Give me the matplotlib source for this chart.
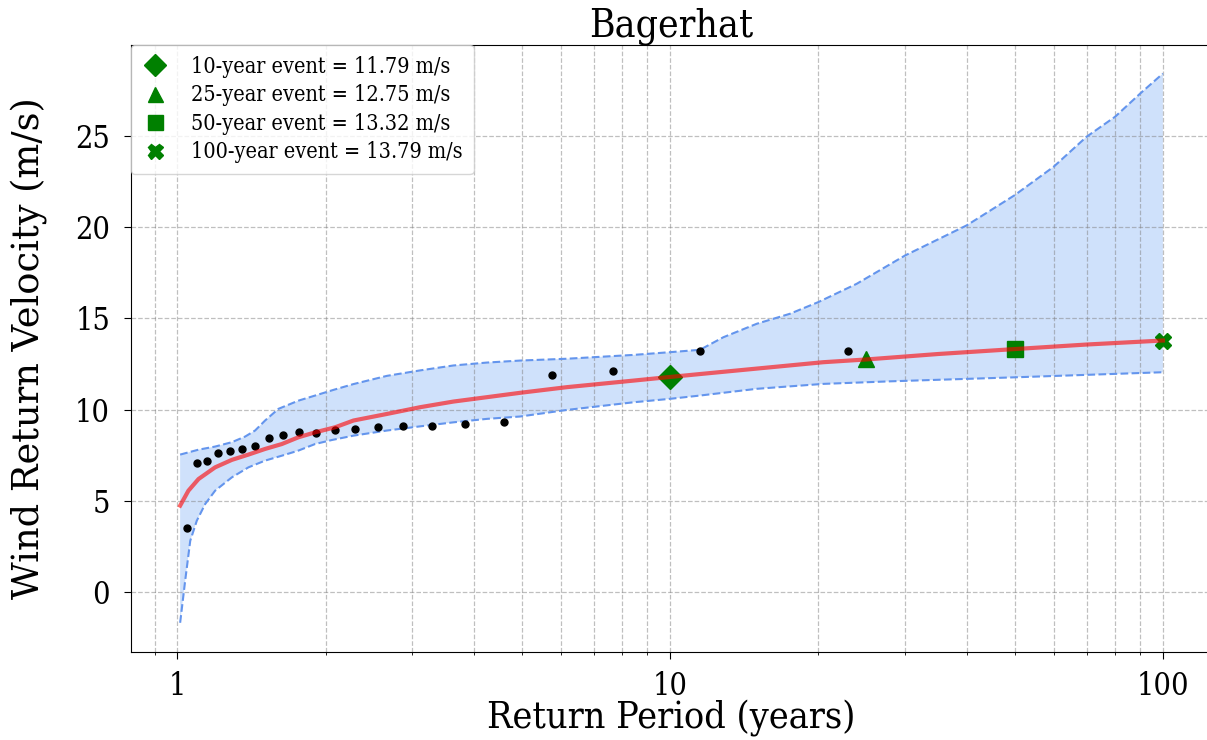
import matplotlib
matplotlib.use("Agg")
import matplotlib.pyplot as plt
import numpy as np

station = "Bagerhat"

# observed annual maxima (n = 22), plotted at Weibull positions T = (n+1)/m
obs_T = [23 / m for m in range(22, 0, -1)]
obs_v = [3.48, 7.09, 7.18, 7.62, 7.73, 7.86, 7.98, 8.42, 8.61, 8.75, 8.72,
         8.86, 8.92, 9.05, 9.12, 9.12, 9.21, 9.30, 11.92, 12.13, 13.22, 13.24]

# fitted return level curve
fit_T = [1.014, 1.054, 1.105, 1.194, 1.291, 1.395, 1.508, 1.631, 1.762, 1.905,
         2.092, 2.279, 2.664, 3.111, 3.634, 4.249, 4.963, 6.173, 8.427, 10.0,
         11.5, 15.0, 20.46, 25.0, 35.0, 50.0, 70.0, 100.0]
fit_v = [4.73, 5.55, 6.19, 6.83, 7.24, 7.53, 7.84, 8.11, 8.48, 8.75,
         9.03, 9.40, 9.76, 10.13, 10.44, 10.68, 10.92, 11.23, 11.59, 11.79,
         11.95, 12.25, 12.6, 12.75, 13.05, 13.32, 13.57, 13.79]

# confidence band
up_T = [1.014, 1.105, 1.194, 1.291, 1.374, 1.439, 1.508, 1.605, 1.762, 1.905,
        2.075, 2.279, 2.664, 3.111, 3.634, 4.249, 4.963, 6.173, 8.427, 10.0,
        11.5, 12.83, 15.0, 17.52, 20.0, 23.91, 30.0, 40.0, 50.0, 60.0, 70.0,
        80.0, 90.0, 100.0]
up_v = [7.53, 7.80, 7.97, 8.21, 8.52, 8.85, 9.40, 10.04, 10.49, 10.77,
        11.08, 11.40, 11.85, 12.15, 12.42, 12.58, 12.69, 12.79, 13.0, 13.15,
        13.28, 13.97, 14.71, 15.26, 15.9, 16.9, 18.46, 20.11, 21.76, 23.32, 24.97,
        26.07, 27.35, 28.44]
lo_T = [1.014, 1.038, 1.063, 1.096, 1.14, 1.194, 1.291, 1.395, 1.508, 1.631,
        1.762, 1.905, 2.06, 2.279, 2.664, 3.111, 3.634, 4.249, 4.963, 6.173,
        8.427, 10.0, 11.5, 15.0, 20.46, 27.94, 50.0, 100.0]
lo_v = [-1.7, 0.6, 2.8, 3.9, 4.82, 5.55, 6.28, 6.83, 7.20, 7.47,
        7.75, 8.11, 8.33, 8.57, 8.85, 9.08, 9.30, 9.49, 9.62, 9.98,
        10.40, 10.59, 10.77, 11.14, 11.41, 11.55, 11.77, 12.05]

# design events
ev_T = [10, 25, 50, 100]
ev_v = [11.79, 12.75, 13.32, 13.79]
ev_mk = ["D", "^", "s", "X"]

plt.rcParams["font.family"] = "DejaVu Serif"
plt.rcParams["font.stretch"] = "condensed"

fig = plt.figure(figsize=(12.07, 7.40), dpi=100)
ax = fig.add_axes([131 / 1207, 0.119, (1212 - 131) / 1207, 0.820])

ax.fill(np.concatenate([up_T, lo_T[::-1]]), np.concatenate([up_v, lo_v[::-1]]),
        color="#cfe1fb", lw=0, zorder=1)
ax.plot(up_T, up_v, "--", color="#6495ed", lw=1.5, zorder=2)
ax.plot(lo_T, lo_v, "--", color="#6495ed", lw=1.5, zorder=2)
ax.plot(obs_T, obs_v, "o", color="black", markersize=5, zorder=3)

for t, v, mk in zip(ev_T, ev_v, ev_mk):
    ax.plot(t, v, mk, color="green", markersize=12, linestyle="none", zorder=4,
            label=f"{t}-year event = {v:.2f} m/s")

ax.plot(fit_T, fit_v, color="red", alpha=0.6, lw=3, zorder=5)

ax.set_xscale("log")
ax.set_xlim(0.806, 125.8)
ax.set_ylim(-3.3, 30.0)
ax.set_xticks([1, 10, 100])
ax.set_xticklabels(["1", "10", "100"])
ax.set_yticks([0, 5, 10, 15, 20, 25])
ax.tick_params(axis="both", which="major", labelsize=22, length=5)
ax.tick_params(axis="x", pad=9)
ax.tick_params(axis="y", pad=10)
ax.grid(True, which="both", axis="x", linestyle="--", color="gray", alpha=0.5, lw=0.9)
ax.grid(True, which="major", axis="y", linestyle="--", color="gray", alpha=0.5, lw=0.9)

ax.set_title(station, fontsize=28, pad=5)
ax.set_xlabel("Return Period (years)", fontsize=27, labelpad=-1.5)
ax.set_ylabel("Wind Return Velocity (m/s)", fontsize=26.5, fontstretch="normal",
              labelpad=20)

ax.legend(loc="upper left", fontsize=15.5, borderaxespad=0, handlelength=1.2,
          handletextpad=1.1, labelspacing=0.3, borderpad=0.5, markerscale=0.9)

fig.savefig("out.png", dpi=100)
